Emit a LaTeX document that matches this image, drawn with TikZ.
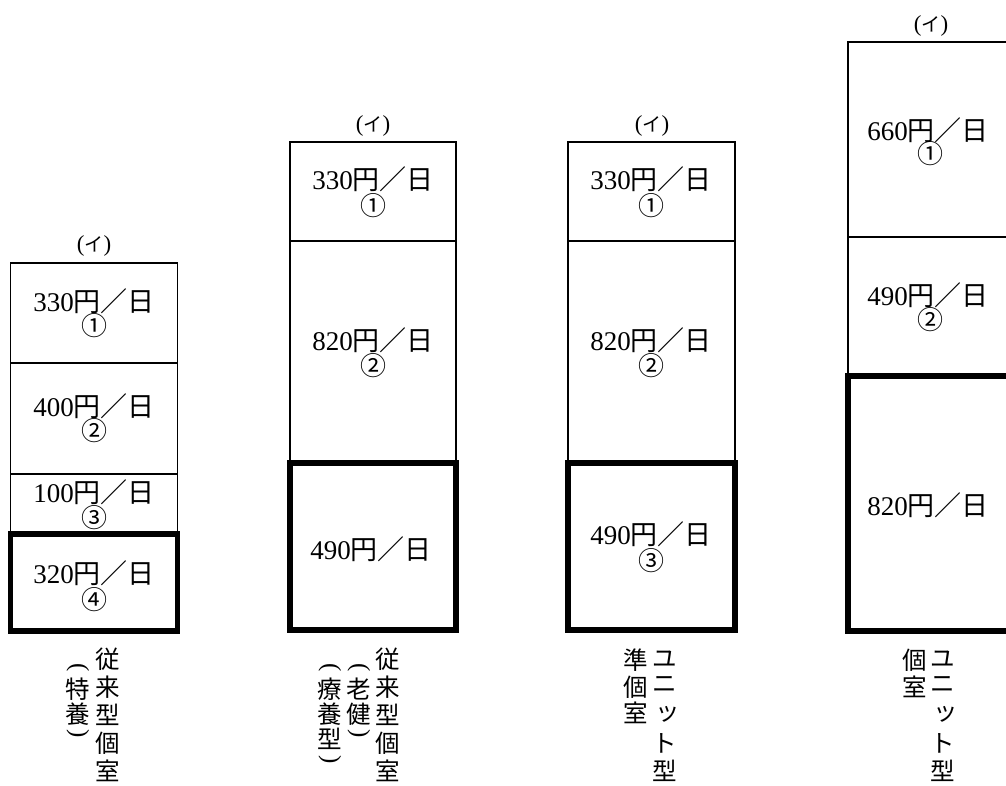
\documentclass[tikz,border=0pt]{standalone}
\usepackage{fontspec}
\setmainfont{Liberation Serif}
\newfontfamily\cjk{Noto Sans CJK JP}
\tikzset{
  thinbox/.style={draw, line width=1.3pt},
  thickbox/.style={draw, line width=5.5pt},
  price/.style={font=\fontsize{27}{29}\selectfont, inner sep=0pt},
  circnum/.style={font=\cjk\fontsize{26}{28}\selectfont, inner sep=0pt},
  tag/.style={font=\fontsize{23}{25}\selectfont, inner sep=0pt},
  vchar/.style={font=\cjk\fontsize{24.5}{26}\selectfont, inner sep=0pt},
  vparen/.style={font=\fontsize{25}{26}\selectfont, inner sep=0pt, rotate=-90},
}
\newcommand{\yen}[1]{#1{\cjk 円}{\cjk ／}{\cjk 日}}
\newcommand{\itag}{({\cjk\fontsize{19}{19}\selectfont イ})}
\begin{document}
\begin{tikzpicture}[x=1pt,y=-1pt]
\useasboundingbox (0,0) rectangle (1006,785);
\clip (0,0) rectangle (1006,785);
% ---------- column 1 ----------
\draw[thinbox] (10.5,263) rectangle (177.5,534);
\draw[thinbox] (10.5,363) -- (177.5,363);
\draw[thinbox] (10.5,474) -- (177.5,474);
\draw[thickbox] (10.5,534) rectangle (177.5,631);
% ---------- column 2 ----------
\draw[thinbox] (290,142) rectangle (456,463);
\draw[thinbox] (290,241) -- (456,241);
\draw[thickbox] (290,463) rectangle (456,630);
% ---------- column 3 ----------
\draw[thinbox] (568,142) rectangle (735,463);
\draw[thinbox] (568,241) -- (735,241);
\draw[thickbox] (568,463) rectangle (735,630);
% ---------- column 4 ----------
\draw[thinbox] (848,42) rectangle (1015,376);
\draw[thinbox] (848,237) -- (1015,237);
\draw[thickbox] (848,376) rectangle (1015,631);

% ---------- tags ----------
\node[tag] (t1) at (94,246) {\itag};
\node[tag] (t2) at (373,126) {\itag};
\node[tag] (t3) at (652,126) {\itag};
\node[tag] (t4) at (931,26) {\itag};

% ---------- prices column 1 ----------
\node[price] (p11) at (94,301) {\yen{330}};
\node[circnum] (n11) at (94,326) {①};
\node[price] (p12) at (94,406) {\yen{400}};
\node[circnum] (n12) at (94,431) {②};
\node[price] (p13) at (94,492) {\yen{100}};
\node[circnum] (n13) at (94,518) {③};
\node[price] (p14) at (94,573) {\yen{320}};
\node[circnum] (n14) at (94,600) {④};
% ---------- prices column 2 ----------
\node[price] (p21) at (373,179) {\yen{330}};
\node[circnum] (n21) at (373,206) {①};
\node[price] (p22) at (373,340) {\yen{820}};
\node[circnum] (n22) at (373,366) {②};
\node[price] (p23) at (371,549) {\yen{490}};
% ---------- prices column 3 ----------
\node[price] (p31) at (651,179) {\yen{330}};
\node[circnum] (n31) at (651,206) {①};
\node[price] (p32) at (651,340) {\yen{820}};
\node[circnum] (n32) at (651,366) {②};
\node[price] (p33) at (651,534) {\yen{490}};
\node[circnum] (n33) at (651,561) {③};
% ---------- prices column 4 ----------
\node[price] (p41) at (928,130) {\yen{660}};
\node[circnum] (n41) at (930,154) {①};
\node[price] (p42) at (928,295) {\yen{490}};
\node[circnum] (n42) at (930,320) {②};
\node[price] (p43) at (928,505) {\yen{820}};

% ---------- vertical labels ----------
% column 1
\foreach \c/\y [count=\i] in {従/659,来/687,型/715,個/743,室/771}
  \node[vchar] (v1r\i) at (108,\y) {\c};
\node[vparen] (v1lo) at (78,668) {(};
\node[vchar] (v1l1) at (78,689) {特};
\node[vchar] (v1l2) at (78,714) {養};
\node[vparen] (v1lc) at (78,734) {)};
% column 2
\foreach \c/\y [count=\i] in {従/659,来/687,型/715,個/743,室/771}
  \node[vchar] (v2r\i) at (388,\y) {\c};
\node[vparen] (v2mo) at (359,668) {(};
\node[vchar] (v2m1) at (359,689) {老};
\node[vchar] (v2m2) at (359,714) {健};
\node[vparen] (v2mc) at (359,734) {)};
\node[vparen] (v2lo) at (330,668) {(};
\node[vchar] (v2l1) at (330,689) {療};
\node[vchar] (v2l2) at (330,714) {養};
\node[vchar] (v2l3) at (330,739) {型};
\node[vparen] (v2lc) at (330,760) {)};
% column 3
\node[vchar] (v3r1) at (665,659) {ユ};
\node[vchar] (v3r2) at (665,685) {ニ};
\node[vchar] (v3r3) at (668,714) {ッ};
\node[vchar] (v3r4) at (665,743) {ト};
\node[vchar] (v3r5) at (665,771) {型};
\node[vchar] (v3l1) at (636,660) {準};
\node[vchar] (v3l2) at (636,687) {個};
\node[vchar] (v3l3) at (636,713) {室};
% column 4
\node[vchar] (v4r1) at (943,659) {ユ};
\node[vchar] (v4r2) at (943,685) {ニ};
\node[vchar] (v4r3) at (946,714) {ッ};
\node[vchar] (v4r4) at (943,743) {ト};
\node[vchar] (v4r5) at (943,771) {型};
\node[vchar] (v4l1) at (915,660) {個};
\node[vchar] (v4l2) at (915,687) {室};
\end{tikzpicture}
\end{document}
